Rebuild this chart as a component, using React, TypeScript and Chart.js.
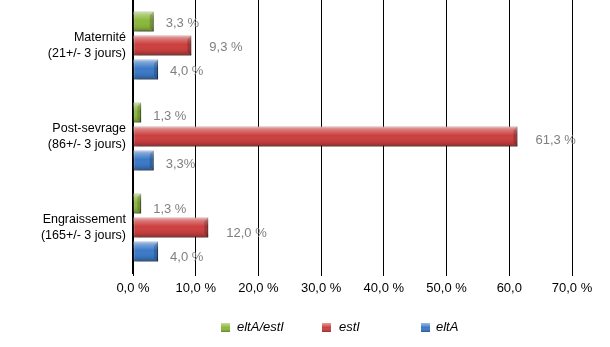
import { useEffect, useRef } from "react";
import { Chart, registerables } from "chart.js";

Chart.register(...registerables);

// ---- data ----
const categories = [
  ["Maternité", "(21+/- 3 jours)"],
  ["Post-sevrage", "(86+/- 3 jours)"],
  ["Engraissement", "(165+/- 3 jours)"],
];
const seriesNames = ["eltA/estI", "estI", "eltA"];
const eltAestIValues = [3.3, 1.3, 1.3];
const estIValues = [9.3, 61.3, 12.0];
const eltAValues = [4.0, 3.3, 4.0];
const eltAestILabels = ["3,3 %", "1,3 %", "1,3 %"];
const estILabels = ["9,3 %", "61,3 %", "12,0 %"];
const eltALabels = ["4,0 %", "3,3%", "4,0 %"];
const xTickLabels = ["0,0 %", "10,0 %", "20,0 %", "30,0 %", "40,0 %", "50,0 %", "60,0", "70,0 %"];

// ---- styles ----
const FONT = "Arial, 'Liberation Sans', sans-serif";
const baseColors = ["#8cb83c", "#cc3f3f", "#3b79c8"];
const edgeColors = ["#5f8222", "#8f2626", "#22518f"];
const valueLabels = [eltAestILabels, estILabels, eltALabels];
const labelOffsets = [12, 18, 12];
const labelYShift = [2, 4, 6];
const legendBoxX = [221, 322, 421];
const legendTextX = [237, 339, 436];

const bevelPlugin = {
  id: "bevel",
  beforeDatasetDraw(chart: any) {
    const ctx = chart.ctx;
    ctx.save();
    ctx.shadowColor = "rgba(0,0,0,0.35)";
    ctx.shadowOffsetX = 2;
    ctx.shadowOffsetY = 2;
    ctx.shadowBlur = 2;
  },
  afterDatasetDraw(chart: any, args: any) {
    const ctx = chart.ctx;
    ctx.restore();
    const meta = args.meta;
    meta.data.forEach((el: any) => {
      const { x, y, base, height } = el.getProps(["x", "y", "base", "height"], true);
      const top = y - height / 2;
      const left = Math.min(base, x);
      const w = Math.abs(x - base);
      const g = ctx.createLinearGradient(0, top, 0, top + height);
      g.addColorStop(0, "rgba(255,255,255,0.55)");
      g.addColorStop(0.2, "rgba(255,255,255,0.25)");
      g.addColorStop(0.45, "rgba(255,255,255,0.0)");
      g.addColorStop(0.8, "rgba(0,0,0,0.08)");
      g.addColorStop(1, "rgba(0,0,0,0.3)");
      ctx.save();
      ctx.fillStyle = g;
      ctx.fillRect(left, top, w, height);
      // bevelled right end
      const b = Math.min(4, w / 2);
      ctx.fillStyle = "rgba(0,0,0,0.18)";
      ctx.beginPath();
      ctx.moveTo(left + w - b, top + b);
      ctx.lineTo(left + w, top);
      ctx.lineTo(left + w, top + height);
      ctx.lineTo(left + w - b, top + height - b);
      ctx.closePath();
      ctx.fill();
      ctx.restore();
    });
  },
  afterDatasetsDraw(chart: any) {
    const ctx = chart.ctx;
    ctx.save();
    ctx.font = `13px ${FONT}`;
    ctx.fillStyle = "#7f7f7f";
    ctx.textAlign = "left";
    ctx.textBaseline = "middle";
    chart.data.datasets.forEach((ds: any, di: number) => {
      const meta = chart.getDatasetMeta(di);
      meta.data.forEach((el: any, i: number) => {
        const { x, y } = el.getProps(["x", "y"], true);
        ctx.fillText(valueLabels[di][i], x + labelOffsets[di], y + labelYShift[i]);
      });
    });
    ctx.restore();
  },
  afterDraw(chart: any) {
    const ctx = chart.ctx;
    ctx.save();
    const yc = 327;
    chart.data.datasets.forEach((ds: any, di: number) => {
      const bx = legendBoxX[di];
      const by = yc - 4;
      ctx.fillStyle = baseColors[di];
      ctx.fillRect(bx, by, 9, 9);
      const g = ctx.createLinearGradient(0, by, 0, by + 9);
      g.addColorStop(0, "rgba(255,255,255,0.5)");
      g.addColorStop(0.5, "rgba(255,255,255,0)");
      g.addColorStop(1, "rgba(0,0,0,0.3)");
      ctx.fillStyle = g;
      ctx.fillRect(bx, by, 9, 9);
      ctx.font = `italic 13px ${FONT}`;
      ctx.fillStyle = "#000";
      ctx.textAlign = "left";
      ctx.textBaseline = "middle";
      ctx.fillText(ds.label, legendTextX[di], yc);
    });
    ctx.restore();
  },
};

export default function App() {
  const ref = useRef<HTMLCanvasElement>(null);
  useEffect(() => {
    document.body.style.margin = "0";
    const series = [eltAestIValues, estIValues, eltAValues];
    const chart = new Chart(ref.current as HTMLCanvasElement, {
      type: "bar",
      data: {
        labels: categories as any,
        datasets: series.map((vals, i) => ({
          label: seriesNames[i],
          data: vals,
          backgroundColor: baseColors[i],
          borderColor: edgeColors[i],
          borderWidth: 1,
          borderSkipped: false,
          categoryPercentage: 0.79,
          barPercentage: 0.83,
        })),
      },
      options: {
        indexAxis: "y",
        animation: false,
        responsive: false,
        events: [],
        layout: { padding: { left: 0, right: 38, top: 0, bottom: 0 } },
        plugins: {
          legend: { display: false },
          tooltip: { enabled: false },
        },
        scales: {
          x: {
            min: 0,
            max: 70,
            ticks: {
              stepSize: 10,
              color: "#000",
              font: { family: FONT, size: 13 },
              padding: 5,
              maxRotation: 0,
              callback: (_v: any, i: number) => xTickLabels[i],
            },
            grid: { color: "#000", lineWidth: 1, drawTicks: true, tickLength: 3 },
            border: { display: false },
            afterFit: (s: any) => {
              s.height = 74;
              s.paddingLeft = 0;
              s.paddingRight = 0;
            },
          },
          y: {
            ticks: {
              color: "#000",
              font: { family: FONT, size: 12.5, lineHeight: 1.3 },
              padding: 7,
            },
            grid: { display: false, drawTicks: false },
            border: { display: true, color: "#000", width: 2 },
            afterFit: (s: any) => {
              s.width = 133;
              s.paddingTop = 0;
              s.paddingBottom = 0;
            },
          },
        },
      },
      plugins: [bevelPlugin],
    } as any);
    return () => chart.destroy();
  }, []);
  return (
    <div style={{ position: "absolute", left: 0, top: 0, width: 610, height: 347, background: "#fff" }}>
      <canvas ref={ref} width={610} height={347} style={{ width: 610, height: 347 }} />
    </div>
  );
}
